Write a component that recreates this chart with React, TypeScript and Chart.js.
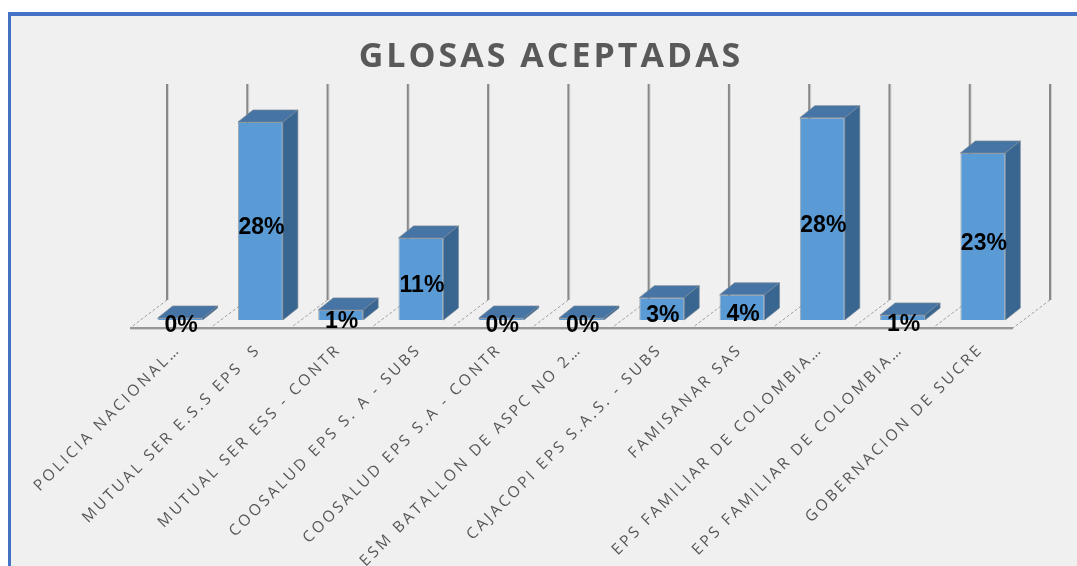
import { useEffect, useRef } from "react";
import { Chart, registerables } from "chart.js";

Chart.register(...registerables);

const TITLE = "GLOSAS ACEPTADAS";

const categories = [
  "POLICIA NACIONAL…",
  "MUTUAL SER E.S.S EPS  S",
  "MUTUAL SER ESS - CONTR",
  "COOSALUD EPS S. A - SUBS",
  "COOSALUD EPS S.A - CONTR",
  "ESM BATALLON DE ASPC NO 2…",
  "CAJACOPI EPS S.A.S. - SUBS",
  "FAMISANAR SAS",
  "EPS FAMILIAR DE COLOMBIA…",
  "EPS FAMILIAR DE COLOMBIA…",
  "GOBERNACION DE SUCRE",
];

// percentages
const values = [0.2, 27.5, 1.4, 11.4, 0.1, 0.1, 3.1, 3.5, 28.1, 0.7, 23.2];

const Y_MAX = 30;

const BAR_DEPTH = { dx: 15, dy: -12 };
const WALL = { dx: 27, dy: -20 };
const FLOOR_FRONT = { dx: -10, dy: 8 };

const plugin3d = {
  id: "bars3d",
  beforeDatasetsDraw(chart: any) {
    const { ctx, chartArea } = chart;
    const y0 = chart.scales.y.getPixelForValue(0);
    const yTop = chart.scales.y.getPixelForValue(Y_MAX);
    const n = categories.length;
    const w = (chartArea.right - chartArea.left) / n;
    ctx.save();
    // floor slants (dashed)
    for (let k = 0; k <= n; k++) {
      const xb = chartArea.left + k * w;
      ctx.strokeStyle = "#a0a0a0";
      ctx.lineWidth = 1;
      ctx.setLineDash([3, 2]);
      ctx.beginPath();
      ctx.moveTo(xb + WALL.dx, y0 + WALL.dy);
      ctx.lineTo(xb + FLOOR_FRONT.dx, y0 + FLOOR_FRONT.dy);
      ctx.stroke();
    }
    ctx.setLineDash([]);
    // wall vertical gridlines
    for (let k = 0; k <= n; k++) {
      const xb = chartArea.left + k * w + WALL.dx;
      ctx.strokeStyle = "#d2d2d2";
      ctx.lineWidth = 1;
      ctx.beginPath();
      ctx.moveTo(xb + 1.5, yTop + WALL.dy);
      ctx.lineTo(xb + 1.5, y0 + WALL.dy);
      ctx.stroke();
      ctx.strokeStyle = "#888888";
      ctx.lineWidth = 2;
      ctx.beginPath();
      ctx.moveTo(xb, yTop + WALL.dy);
      ctx.lineTo(xb, y0 + WALL.dy);
      ctx.stroke();
    }
    // floor front edge
    ctx.strokeStyle = "#d0d0d0";
    ctx.lineWidth = 1;
    ctx.beginPath();
    ctx.moveTo(chartArea.left + FLOOR_FRONT.dx, y0 + FLOOR_FRONT.dy + 1.5);
    ctx.lineTo(chartArea.right + FLOOR_FRONT.dx, y0 + FLOOR_FRONT.dy + 1.5);
    ctx.stroke();
    ctx.strokeStyle = "#969696";
    ctx.lineWidth = 2;
    ctx.beginPath();
    ctx.moveTo(chartArea.left + FLOOR_FRONT.dx, y0 + FLOOR_FRONT.dy);
    ctx.lineTo(chartArea.right + FLOOR_FRONT.dx, y0 + FLOOR_FRONT.dy);
    ctx.stroke();
    ctx.restore();
  },
  afterDatasetsDraw(chart: any) {
    const { ctx } = chart;
    const meta = chart.getDatasetMeta(0);
    ctx.save();
    ctx.lineWidth = 1;
    ctx.strokeStyle = "rgba(120,135,150,0.7)";
    meta.data.forEach((bar: any) => {
      const { x, y, base, width } = bar.getProps(["x", "y", "base", "width"], true);
      const l = x - width / 2;
      const r = x + width / 2;
      const { dx, dy } = BAR_DEPTH;
      // top face
      ctx.fillStyle = "#4675a5";
      ctx.beginPath();
      ctx.moveTo(l, y);
      ctx.lineTo(r, y);
      ctx.lineTo(r + dx, y + dy);
      ctx.lineTo(l + dx, y + dy);
      ctx.closePath();
      ctx.fill();
      ctx.stroke();
      // side face
      ctx.fillStyle = "#396591";
      ctx.beginPath();
      ctx.moveTo(r, y);
      ctx.lineTo(r + dx, y + dy);
      ctx.lineTo(r + dx, base + dy);
      ctx.lineTo(r, base);
      ctx.closePath();
      ctx.fill();
      ctx.stroke();
    });
    // data labels
    ctx.fillStyle = "#000000";
    ctx.font = "bold 23px 'Liberation Sans'";
    ctx.textAlign = "center";
    ctx.textBaseline = "middle";
    meta.data.forEach((bar: any, i: number) => {
      const { x, y, base } = bar.getProps(["x", "y", "base"], true);
      ctx.fillText(Math.round(values[i]) + "%", x + 1, (y + base) / 2 + 7);
    });
    ctx.restore();
  },
  afterDraw(chart: any) {
    const { ctx } = chart;
    ctx.save();
    // title
    ctx.fillStyle = "#595959";
    ctx.font = "bold 34px 'Open Sans'";
    (ctx as any).letterSpacing = "3px";
    ctx.textAlign = "center";
    ctx.textBaseline = "alphabetic";
    ctx.fillText(TITLE, 551, 67);
    // category labels
    ctx.font = "15.5px 'Open Sans'";
    (ctx as any).letterSpacing = "2.9px";
    ctx.fillStyle = "#575757";
    ctx.textAlign = "right";
    ctx.textBaseline = "middle";
    const xs = chart.scales.x;
    categories.forEach((c, i) => {
      const cx = xs.getPixelForValue(i);
      ctx.save();
      ctx.translate(cx - 2, 347);
      ctx.rotate(-Math.PI / 4);
      ctx.fillText(c, 0, 0);
      ctx.restore();
    });
    (ctx as any).letterSpacing = "0px";
    ctx.restore();
  },
};

export default function App() {
  const ref = useRef<HTMLCanvasElement>(null);
  useEffect(() => {
    if (!ref.current) return;
    const chart = new Chart(ref.current, {
      type: "bar",
      data: {
        labels: categories,
        datasets: [
          {
            data: values,
            backgroundColor: "#5b9bd5",
            borderColor: "rgba(120,135,150,0.7)",
            borderWidth: 1,
            barPercentage: 0.56,
            categoryPercentage: 1,
            minBarLength: 2,
          },
        ],
      },
      options: {
        responsive: false,
        animation: false,
        layout: { padding: { left: 140, right: 54, top: 104, bottom: 246 } },
        scales: {
          x: { display: false },
          y: { display: false, min: 0, max: Y_MAX },
        },
        plugins: {
          legend: { display: false },
          tooltip: { enabled: false },
          title: { display: false },
        },
      },
      plugins: [plugin3d],
    });
    return () => chart.destroy();
  }, []);

  return (
    <div
      style={{
        position: "absolute",
        left: 0,
        top: 0,
        width: 1077,
        height: 566,
        background: "#ffffff",
        overflow: "hidden",
      }}
    >
      <div
        style={{
          position: "absolute",
          left: 8,
          top: 12,
          width: 1100,
          height: 600,
          boxSizing: "border-box",
          borderTop: "4px solid #4472c4",
          borderLeft: "3px solid #4472c4",
          background: "#f0f0f0",
        }}
      />
      <canvas
        ref={ref}
        width={1077}
        height={566}
        style={{ position: "absolute", left: 0, top: 0, width: 1077, height: 566 }}
      />
    </div>
  );
}
